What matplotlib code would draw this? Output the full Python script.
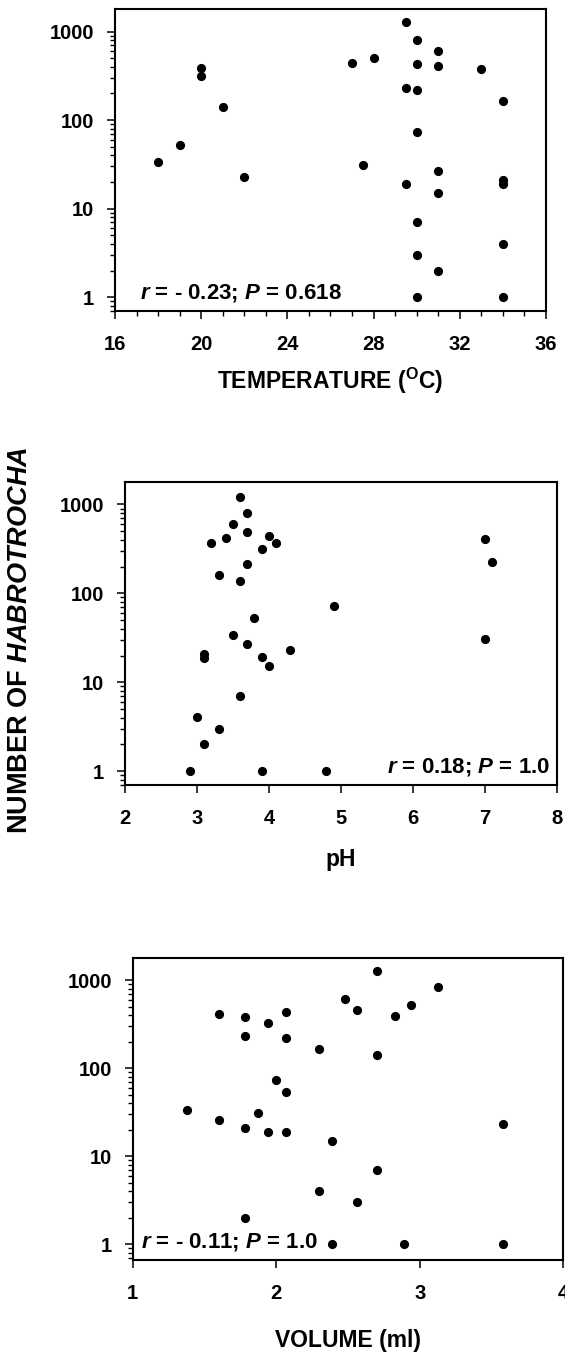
import numpy as np
import matplotlib
matplotlib.use("Agg")
import matplotlib.pyplot as plt
from matplotlib.ticker import FixedLocator, FixedFormatter, LogLocator, MultipleLocator, NullFormatter

# bold Helvetica-like look of the scanned figure
plt.rcParams['font.family'] = 'Liberation Sans'
plt.rcParams['font.weight'] = 'bold'
plt.rcParams['axes.labelweight'] = 'bold'
plt.rcParams['mathtext.fontset'] = 'custom'
plt.rcParams['mathtext.rm'] = 'Liberation Sans:bold'
plt.rcParams['mathtext.it'] = 'Liberation Sans:italic:bold'
plt.rcParams['mathtext.bf'] = 'Liberation Sans:bold'

# --------------------------
# Data
# --------------------------
temp_c = [18, 19, 20, 20, 21, 22, 27, 27.5, 28, 29.5, 29.5, 29.5,
          30, 30, 30, 30, 30, 30, 30, 31, 31, 31, 31, 31, 33, 34, 34, 34, 34, 34]
temp_n = [34, 53, 385, 315, 140, 23, 446, 31.5, 504, 1276, 230, 19.2,
          812, 427, 219, 74, 7, 3, 1, 609, 412, 27, 15, 2, 378, 165, 21, 19, 4, 1]

ph = [2.9, 3.0, 3.1, 3.1, 3.1, 3.2, 3.3, 3.3, 3.4, 3.5, 3.5, 3.6, 3.6, 3.6, 3.7, 3.7,
      3.7, 3.7, 3.8, 3.9, 3.9, 3.9, 4.0, 4.0, 4.1, 4.3, 4.8, 4.9, 7.0, 7.1, 7.0]
ph_n = [1, 4.1, 2, 21, 19, 369, 161, 3, 416, 597, 34, 1220, 137, 7.1, 794, 494,
        216, 27, 53, 315, 19.4, 1, 442, 15.2, 372, 23, 1, 73, 409, 227, 31]

vol_ml = [1.38, 1.6, 1.6, 1.78, 1.78, 1.78, 1.78, 1.87, 1.94, 1.94, 2.0, 2.07, 2.07, 2.07,
          2.07, 2.3, 2.3, 2.39, 2.39, 2.48, 2.56, 2.56, 2.7, 2.7, 2.7, 2.83, 2.89, 2.94,
          3.13, 3.58, 3.58]
vol_n = [33, 414, 26, 380, 231, 20.6, 2, 30.5, 322, 18.7, 74, 429, 221, 53,
         18.7, 166, 4, 15, 1, 614, 456, 3, 1266, 140, 7, 387, 1, 520,
         832, 23, 1]

y_ticks = [1, 10, 100, 1000]
y_tick_labels = ["1", "10", "100", "1000"]

stats = [r"$r$ = - 0.23; $P$ = 0.618", r"$r$ = 0.18; $P$ = 1.0", r"$r$ = - 0.11; $P$ = 1.0"]
x_labels = [r"TEMPERATURE ($^{\rm O}$C)", "pH", "VOLUME (ml)"]


def style_panel(ax, xlim, xmajor, xminor, ylim):
    ax.set_yscale("log")
    ax.set_xlim(*xlim)
    ax.set_ylim(*ylim)
    ax.yaxis.set_major_locator(FixedLocator(y_ticks))
    ax.yaxis.set_major_formatter(FixedFormatter(y_tick_labels))
    ax.yaxis.set_minor_locator(LogLocator(base=10, subs=np.arange(2, 10)))
    ax.yaxis.set_minor_formatter(NullFormatter())
    ax.xaxis.set_major_locator(MultipleLocator(xmajor))
    if xminor:
        ax.xaxis.set_minor_locator(MultipleLocator(xminor))
    for s in ax.spines.values():
        s.set_linewidth(1.5)
    ax.tick_params(which="major", direction="out", length=6, width=1.1, labelsize=14.5)
    ax.tick_params(which="minor", direction="out", length=3.5, width=1.0)
    ax.tick_params(axis="x", which="major", pad=11)
    ax.tick_params(axis="y", which="major", pad=9)


fig = plt.figure(figsize=(5.65, 13.57), dpi=100)

ax1 = fig.add_axes([0.2035, 0.7708, 0.7628, 0.2226])
ax2 = fig.add_axes([0.2212, 0.4215, 0.7641, 0.2235])
ax3 = fig.add_axes([0.2349, 0.0715, 0.7621, 0.2228])

ax1.plot(temp_c, temp_n, "o", color="black", markersize=5.6)
style_panel(ax1, (16, 36), 4, 1, (0.7, 1800))
ax1.text(0.058, 0.06, stats[0], transform=ax1.transAxes, fontsize=16, ha="left", va="center")

ax2.plot(ph, ph_n, "o", color="black", markersize=5.6)
style_panel(ax2, (2, 8), 1, None, (0.7, 1800))
ax2.text(0.984, 0.06, stats[1], transform=ax2.transAxes, fontsize=16, ha="right", va="center")

ax3.plot(vol_ml, vol_n, "o", color="black", markersize=5.6)
style_panel(ax3, (1, 4), 1, None, (0.66, 1800))
ax3.text(0.019, 0.06, stats[2], transform=ax3.transAxes, fontsize=16, ha="left", va="center")

for ax, lab, yc in zip([ax1, ax2, ax3], x_labels, [-0.232, -0.247, -0.265]):
    ax.set_xlabel(lab, fontsize=16.5, fontweight="bold")
    ax.xaxis.set_label_coords(0.5, yc)
    ax.xaxis.label.set_va("center")

fig.text(20 / 565, 1 - 640 / 1357, r"NUMBER OF $HABROTROCHA$", rotation=90,
         fontsize=19.5, ha="center", va="center")

fig.savefig("out.png", dpi=100)
